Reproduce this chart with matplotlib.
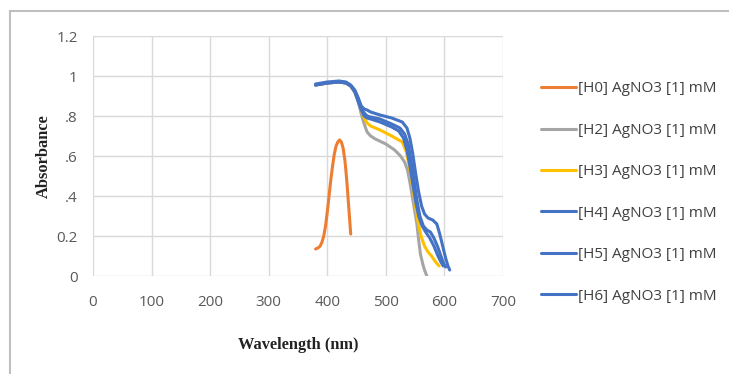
import matplotlib
matplotlib.use("Agg")
import matplotlib.pyplot as plt
from matplotlib.lines import Line2D
from matplotlib import font_manager

# ---- data ----
h0_wl = [380, 384, 388, 391, 394, 397, 400, 403, 406, 409, 412, 415, 418, 421, 424, 427, 430, 432, 434, 436, 438, 440]
h0_ab = [0.135, 0.14, 0.15, 0.17, 0.20, 0.25, 0.32, 0.40, 0.48, 0.55, 0.61, 0.65, 0.67, 0.68, 0.67, 0.64, 0.58, 0.52, 0.45, 0.37, 0.29, 0.21]

h2_wl = [380, 400, 420, 432, 440, 447, 453, 458, 463, 468, 474, 482, 500, 515, 525, 532, 537, 541, 545, 549, 553, 556, 559, 563, 566, 570]
h2_ab = [0.955, 0.965, 0.97, 0.965, 0.95, 0.92, 0.87, 0.81, 0.76, 0.72, 0.70, 0.685, 0.66, 0.63, 0.60, 0.57, 0.53, 0.47, 0.40, 0.33, 0.26, 0.18, 0.11, 0.06, 0.03, 0.0]

h3_wl = [380, 400, 420, 432, 440, 447, 453, 458, 463, 468, 474, 490, 510, 528, 535, 540, 545, 550, 555, 560, 566, 572, 578, 585, 591]
h3_ab = [0.955, 0.965, 0.97, 0.965, 0.95, 0.92, 0.88, 0.83, 0.79, 0.765, 0.75, 0.73, 0.70, 0.67, 0.62, 0.55, 0.46, 0.36, 0.27, 0.20, 0.15, 0.12, 0.10, 0.07, 0.05]

h4_wl = [380, 400, 420, 432, 440, 447, 453, 458, 463, 468, 474, 490, 510, 528, 536, 541, 546, 551, 556, 561, 566, 572, 580, 587, 592, 597, 602, 606, 609]
h4_ab = [0.96, 0.97, 0.975, 0.97, 0.955, 0.93, 0.89, 0.85, 0.835, 0.83, 0.82, 0.805, 0.79, 0.77, 0.74, 0.69, 0.61, 0.51, 0.42, 0.35, 0.31, 0.29, 0.28, 0.26, 0.21, 0.15, 0.09, 0.05, 0.03]

h5_wl = [380, 400, 420, 432, 440, 447, 453, 458, 463, 468, 474, 490, 510, 524, 532, 538, 543, 548, 553, 558, 564, 570, 576, 582, 588, 594, 599, 602]
h5_ab = [0.955, 0.965, 0.97, 0.965, 0.95, 0.925, 0.88, 0.84, 0.815, 0.80, 0.795, 0.785, 0.76, 0.74, 0.71, 0.66, 0.58, 0.48, 0.38, 0.30, 0.25, 0.23, 0.22, 0.19, 0.15, 0.10, 0.06, 0.045]

h6_wl = [380, 400, 420, 432, 440, 447, 453, 458, 463, 468, 474, 490, 510, 522, 530, 536, 541, 546, 551, 556, 562, 568, 575, 582, 589, 594, 598]
h6_ab = [0.955, 0.965, 0.97, 0.965, 0.95, 0.92, 0.87, 0.83, 0.80, 0.79, 0.785, 0.77, 0.745, 0.725, 0.69, 0.63, 0.55, 0.46, 0.37, 0.30, 0.25, 0.22, 0.19, 0.15, 0.10, 0.07, 0.05]

labels = ["[H0] AgNO3 [1] mM", "[H2] AgNO3 [1] mM", "[H3] AgNO3 [1] mM",
          "[H4] AgNO3 [1] mM", "[H5] AgNO3 [1] mM", "[H6] AgNO3 [1] mM"]
colors = ["#ED7D31", "#A5A5A5", "#FFC000", "#4472C4", "#4472C4", "#4472C4"]

xticks = [0, 100, 200, 300, 400, 500, 600, 700]
yticks = [0, 0.2, 0.4, 0.6, 0.8, 1.0, 1.2]
ytick_labels = ["0", "0.2", ".4", ".6", ".8", "1", "1.2"]

# ---- fonts ----
avail = {f.name for f in font_manager.fontManager.ttflist}
sans = "Liberation Sans Narrow" if "Liberation Sans Narrow" in avail else "Open Sans"
serif = "Liberation Serif"

fig = plt.figure(figsize=(7.29, 3.74), dpi=100)
ax = fig.add_axes([93/729, 1-276/374, (503-93)/729, (276-36)/374])

series = [(h0_wl, h0_ab), (h2_wl, h2_ab), (h3_wl, h3_ab),
          (h4_wl, h4_ab), (h5_wl, h5_ab), (h6_wl, h6_ab)]
for (wl, ab), c, lab in zip(series, colors, labels):
    ax.plot(wl, ab, color=c, lw=2.2, label=lab, solid_capstyle="round", solid_joinstyle="round")

ax.set_xlim(0, 700)
ax.set_ylim(0, 1.2)
ax.set_xticks(xticks)
ax.set_yticks(yticks)
ax.set_yticklabels(ytick_labels)
ax.grid(True, color="#d9d9d9", lw=1)
ax.set_axisbelow(True)
for s in ax.spines.values():
    s.set_visible(False)
ax.tick_params(length=0, colors="#595959", labelsize=11)
ax.tick_params(axis="y", pad=11)
ax.tick_params(axis="x", pad=14)
for t in ax.get_xticklabels() + ax.get_yticklabels():
    t.set_fontfamily(sans)

ax.set_xlabel("Wavelength (nm)", family=serif, weight="bold", fontsize=11.8, color="#222222", labelpad=19)
ax.set_ylabel("Absorbance", family=serif, weight="bold", fontsize=11.8, color="#222222", labelpad=3)

leg = fig.legend(loc="center left", bbox_to_anchor=(541/729, 1-192.5/374), frameon=False,
                 prop={"family": sans, "size": 11}, handlelength=2.3, handletextpad=0.15,
                 labelspacing=1.73, borderpad=0, borderaxespad=0)
for t in leg.get_texts():
    t.set_color("#404040")

fig.add_artist(Line2D([10/729, 10/729], [0, 1-11/374], color="#bfbfbf", lw=1.5, transform=fig.transFigure))
fig.add_artist(Line2D([10/729, 1], [1-11/374, 1-11/374], color="#bfbfbf", lw=1.5, transform=fig.transFigure))

fig.savefig("out.png", dpi=100)
